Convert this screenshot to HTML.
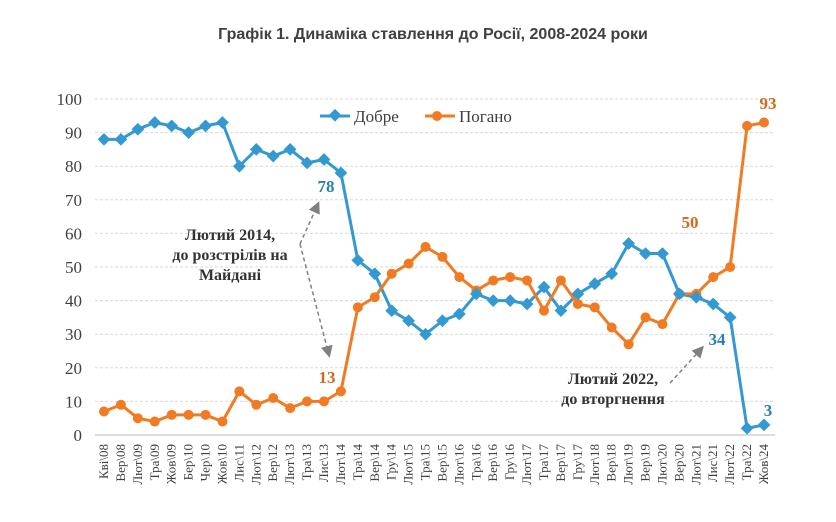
<!DOCTYPE html>
<html><head><meta charset="utf-8"><style>
body{margin:0;background:#fff;width:836px;height:517px;overflow:hidden}
</style></head><body>
<svg id="s" width="836" height="517" xmlns="http://www.w3.org/2000/svg" font-family="'Liberation Serif',serif">
<text x="433" y="39" text-anchor="middle" font-family="'Liberation Sans',sans-serif" font-weight="bold" font-size="16" fill="#404040">Графік 1. Динаміка ставлення до Росії, 2008-2024 роки</text>
<g id="grid" stroke="#d9d9d9" stroke-dasharray="3,2" stroke-width="1"></g>
<g id="ylab" font-size="17" fill="#404040" text-anchor="end"></g>
<line x1="95" y1="435" x2="775" y2="435" stroke="#d0d0d0" stroke-width="1.5"/>
<g id="xlab" font-size="13" fill="#404040"></g>
<polyline id="pb" fill="none" stroke="#3399d0" stroke-width="3"/>
<polyline id="po" fill="none" stroke="#f07b22" stroke-width="3"/>
<g id="mk"></g>
<g font-size="17">
<line x1="320" y1="116" x2="350" y2="116" stroke="#3399d0" stroke-width="3"/>
<rect x="330" y="111" width="9" height="9" fill="#3399d0" transform="rotate(45 335 116)"/>
<text x="354" y="122" fill="#404040">Добре</text>
<line x1="425" y1="116" x2="455" y2="116" stroke="#f07b22" stroke-width="3"/>
<circle cx="437" cy="116" r="5" fill="#f07b22"/>
<text x="459" y="122" fill="#404040">Погано</text>
</g>
<g font-weight="bold" font-size="17">
<text x="326" y="192" text-anchor="middle" fill="#2b7fb0">78</text>
<text x="327" y="383" text-anchor="middle" fill="#d0691b">13</text>
<text x="690" y="228" text-anchor="middle" fill="#d0691b">50</text>
<text x="768" y="109" text-anchor="middle" fill="#d0691b">93</text>
<text x="717" y="345" text-anchor="middle" fill="#2b7fb0">34</text>
<text x="768" y="416" text-anchor="middle" fill="#2b7fb0">3</text>
</g>
<g font-weight="bold" font-size="16" fill="#333" text-anchor="middle">
<text x="230" y="240">Лютий 2014,</text>
<text x="230" y="260">до розстрілів на</text>
<text x="230" y="280">Майдані</text>
<text x="613" y="384">Лютий 2022,</text>
<text x="613" y="404">до вторгнення</text>
</g>
<defs><marker id="ar" markerWidth="8" markerHeight="8" refX="6" refY="4" orient="auto"><path d="M0,0 L8,4 L0,8 z" fill="#808080"/></marker></defs>
<g fill="none" stroke="#808080" stroke-width="1.5" stroke-dasharray="4,3">
<polyline points="300,244 318,204" marker-end="url(#ar)"/>
<polyline points="300,244 329,355" marker-end="url(#ar)"/>
<polyline points="670,383 702,348" marker-end="url(#ar)"/>
</g>
</svg>
<script>
const ns="http://www.w3.org/2000/svg";
const labs="Кві\\08,Вер\\08,Лют\\09,Тра\\09,Жов\\09,Бер\\10,Чер\\10,Жов\\10,Лис\\11,Лют\\12,Вер\\12,Лют\\13,Тра\\13,Лис\\13,Лют\\14,Тра\\14,Вер\\14,Гру\\14,Лют\\15,Тра\\15,Вер\\15,Лют\\16,Тра\\16,Вер\\16,Гру\\16,Лют\\17,Тра\\17,Вер\\17,Гру\\17,Лют\\18,Вер\\18,Лют\\19,Вер\\19,Лют\\20,Вер\\20,Лют\\21,Лис\\21,Лют\\22,Тра\\22,Жов\\24".split(",");
const D=[88,88,91,93,92,90,92,93,80,85,83,85,81,82,78,52,48,37,34,30,34,36,42,40,40,39,44,37,42,45,48,57,54,54,42,41,39,35,2,3];
const P=[7,9,5,4,6,6,6,4,13,9,11,8,10,10,13,38,41,48,51,56,53,47,43,46,47,46,37,46,39,38,32,27,35,33,42,42,47,50,92,93];
const X=i=>104+i*660/39, Y=v=>435-v*3.36;
function el(t,a,p,txt){const e=document.createElementNS(ns,t);for(const k in a)e.setAttribute(k,a[k]);if(txt)e.textContent=txt;document.getElementById(p).appendChild(e);return e;}
for(let v=0;v<=100;v+=10){if(v>0)el("line",{x1:95,x2:775,y1:Y(v),y2:Y(v)},"grid");el("text",{x:82,y:Y(v)+6},"ylab",String(v));}
labs.forEach((l,i)=>el("text",{x:0,y:0,transform:`translate(${X(i)+4},444) rotate(-90)`,"text-anchor":"end"},"xlab",l));
document.getElementById("pb").setAttribute("points",D.map((v,i)=>X(i)+","+Y(v)).join(" "));
document.getElementById("po").setAttribute("points",P.map((v,i)=>X(i)+","+Y(v)).join(" "));
P.forEach((v,i)=>el("circle",{cx:X(i),cy:Y(v),r:5,fill:"#f07b22"},"mk"));
D.forEach((v,i)=>el("rect",{x:X(i)-4.5,y:Y(v)-4.5,width:9,height:9,fill:"#3399d0",transform:`rotate(45 ${X(i)} ${Y(v)})`},"mk"));
</script>
</body></html>
